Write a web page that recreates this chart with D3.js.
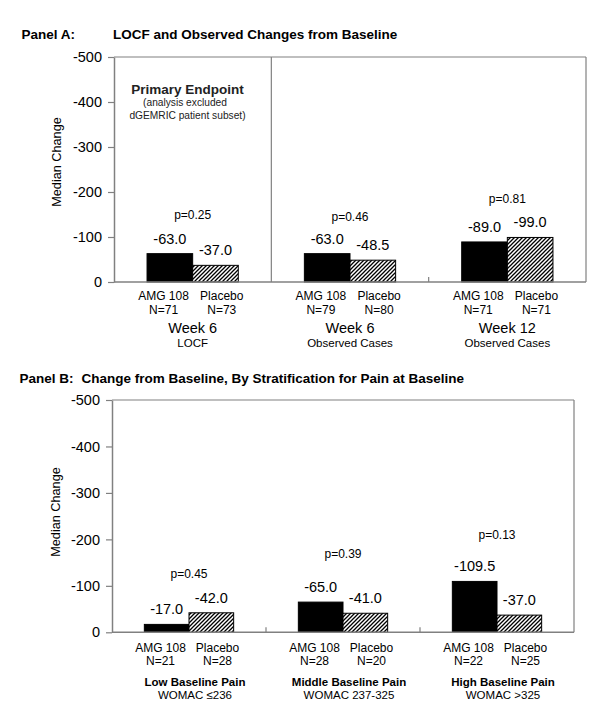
<!DOCTYPE html>
<html>
<head>
<meta charset="utf-8">
<script src="https://cdn.jsdelivr.net/npm/d3@7/dist/d3.min.js"></script>
<style>
  html, body { margin: 0; padding: 0; background: #fff; }
  svg { display: block; font-family: "Liberation Sans", Arial, Helvetica, sans-serif; }
</style>
</head>
<body>
<svg id="chart" width="600" height="721"></svg>
<script>
// ---------- DATA ----------
const yTicks = [0, -100, -200, -300, -400, -500];

// Panel A
const aGroups = ["Week 6", "Week 6", "Week 12"];
const aSubs = ["LOCF", "Observed Cases", "Observed Cases"];
const aAmg = [-63.0, -63.0, -89.0];
const aPlacebo = [-37.0, -48.5, -99.0];
const aAmgN = ["N=71", "N=79", "N=71"];
const aPlaceboN = ["N=73", "N=80", "N=71"];
const aPText = ["p=0.25", "p=0.46", "p=0.81"];
const aPLevel = [-140, -136, -175];

// Panel B
const bGroups = ["Low Baseline Pain", "Middle Baseline Pain", "High Baseline Pain"];
const bSubs = ["WOMAC \u2264236", "WOMAC 237-325", "WOMAC >325"];
const bAmg = [-17.0, -65.0, -109.5];
const bPlacebo = [-42.0, -41.0, -37.0];
const bAmgN = ["N=21", "N=28", "N=22"];
const bPlaceboN = ["N=28", "N=20", "N=25"];
const bPText = ["p=0.45", "p=0.39", "p=0.13"];
const bPLevel = [-116, -159, -200];

const treatLabels = ["AMG 108", "Placebo"];

// ---------- DRAW ----------
const svg = d3.select("#chart");
const GRAY = "#808080";

const defs = svg.append("defs");
const pat = defs.append("pattern")
  .attr("id", "hatch").attr("patternUnits", "userSpaceOnUse")
  .attr("width", 4).attr("height", 4);
pat.append("rect").attr("width", 4).attr("height", 4).attr("fill", "#fff");
pat.append("path")
  .attr("d", "M-1,1 l2,-2 M0,4 l4,-4 M3,5 l2,-2")
  .attr("stroke", "#000").attr("stroke-width", 1.3);

function drawPanel(o) {
  const g = svg.append("g");
  const y = d3.scaleLinear().domain([0, -500]).range([o.zeroY, o.top]);
  const idx = d3.range(o.amg.length);
  const x = d3.scaleBand().domain(idx).range([o.left, o.right]).paddingInner(0).paddingOuter(0);
  const bw = x.bandwidth();
  const barW = 0.29 * bw;
  const cx = i => x(i) + bw / 2;

  // titles
  g.append("text").attr("x", o.titleX1).attr("y", o.titleY)
    .attr("font-weight", "bold").attr("font-size", 13.5).text(o.title1);
  g.append("text").attr("x", o.titleX2).attr("y", o.titleY)
    .attr("font-weight", "bold").attr("font-size", 13.5).text(o.title2);

  // frame: top and right
  g.append("line").attr("x1", o.left).attr("x2", o.right).attr("y1", o.top).attr("y2", o.top)
    .attr("stroke", GRAY).attr("stroke-width", 1.2);
  g.append("line").attr("x1", o.right).attr("x2", o.right).attr("y1", o.top).attr("y2", o.zeroY)
    .attr("stroke", GRAY).attr("stroke-width", 1.2);

  // boundaries
  idx.slice(1).forEach(i => {
    const bx = x(i);
    if (o.fullDivider && i === 1) {
      g.append("line").attr("x1", bx).attr("x2", bx).attr("y1", o.top).attr("y2", o.zeroY)
        .attr("stroke", GRAY).attr("stroke-width", 1.2);
    } else {
      g.append("line").attr("x1", bx).attr("x2", bx).attr("y1", o.zeroY - 5).attr("y2", o.zeroY)
        .attr("stroke", GRAY).attr("stroke-width", 1.2);
    }
  });

  // bars
  g.selectAll(".amg").data(idx).join("rect")
    .attr("x", i => cx(i) - barW).attr("width", barW)
    .attr("y", i => y(o.amg[i])).attr("height", i => y(0) - y(o.amg[i]))
    .attr("fill", "#000").attr("stroke", "#000").attr("stroke-width", 1);
  g.selectAll(".pla").data(idx).join("rect")
    .attr("x", i => cx(i)).attr("width", barW)
    .attr("y", i => y(o.placebo[i])).attr("height", i => y(0) - y(o.placebo[i]))
    .attr("fill", "url(#hatch)").attr("stroke", "#000").attr("stroke-width", 1);

  // value labels
  g.selectAll(".va").data(idx).join("text")
    .attr("x", i => cx(i) - barW / 2).attr("y", i => y(o.amg[i]) - 10)
    .attr("text-anchor", "middle").attr("font-size", 14.5)
    .text(i => o.amg[i].toFixed(1));
  g.selectAll(".vp").data(idx).join("text")
    .attr("x", i => cx(i) + barW / 2).attr("y", i => y(o.placebo[i]) - 10)
    .attr("text-anchor", "middle").attr("font-size", 14.5)
    .text(i => o.placebo[i].toFixed(1));

  // p values
  g.selectAll(".pv").data(idx).join("text")
    .attr("x", i => cx(i)).attr("y", i => y(o.pLevel[i]))
    .attr("text-anchor", "middle").attr("font-size", 12)
    .text(i => o.pText[i]);

  // y axis
  const ax = g.append("g").attr("transform", `translate(${o.left},0)`)
    .call(d3.axisLeft(y).tickValues(yTicks).tickSize(6).tickSizeOuter(0).tickPadding(6)
      .tickFormat(d => String(d)));
  ax.select(".domain").attr("stroke", GRAY).attr("stroke-width", 1.5);
  ax.selectAll(".tick line").attr("stroke", GRAY).attr("stroke-width", 1.2);
  ax.selectAll(".tick text").attr("font-size", 14.5).attr("fill", "#000")
    .attr("font-family", "Liberation Sans, Arial, sans-serif");

  // x baseline
  g.append("line").attr("x1", o.left).attr("x2", o.right).attr("y1", y(0)).attr("y2", y(0))
    .attr("stroke", GRAY).attr("stroke-width", 1.5);

  // y label
  g.append("text").attr("transform", `translate(${o.yLabelX},${o.yLabelY}) rotate(-90)`)
    .attr("text-anchor", "middle").attr("dominant-baseline", "central")
    .attr("font-size", 12.7).text("Median Change");

  // category labels
  const off = 0.185 * bw;
  idx.forEach(i => {
    g.append("text").attr("x", cx(i) - off).attr("y", y(0) + o.row1)
      .attr("text-anchor", "middle").attr("font-size", 12).text(treatLabels[0]);
    g.append("text").attr("x", cx(i) + off).attr("y", y(0) + o.row1)
      .attr("text-anchor", "middle").attr("font-size", 12).text(treatLabels[1]);
    g.append("text").attr("x", cx(i) - off).attr("y", y(0) + o.row2)
      .attr("text-anchor", "middle").attr("font-size", 12).text(o.amgN[i]);
    g.append("text").attr("x", cx(i) + off).attr("y", y(0) + o.row2)
      .attr("text-anchor", "middle").attr("font-size", 12).text(o.placeboN[i]);
    g.append("text").attr("x", cx(i) + o.groupShift).attr("y", y(0) + o.row3)
      .attr("text-anchor", "middle").attr("font-size", o.groupSize)
      .attr("font-weight", o.groupBold ? "bold" : "normal").text(o.groups[i]);
    g.append("text").attr("x", cx(i) + o.groupShift).attr("y", y(0) + o.row4)
      .attr("text-anchor", "middle").attr("font-size", 11.5).text(o.subs[i]);
  });
  return { g, x, y };
}

const A = drawPanel({
  left: 114, right: 586, top: 57, zeroY: 282,
  amg: aAmg, placebo: aPlacebo, amgN: aAmgN, placeboN: aPlaceboN,
  pText: aPText, pLevel: aPLevel, groups: aGroups, subs: aSubs,
  title1: "Panel A:", title2: "LOCF and Observed Changes from Baseline",
  titleX1: 21.5, titleX2: 113, titleY: 38.5,
  fullDivider: true, yLabelX: 57, yLabelY: 162,
  row1: 17.5, row2: 31.5, row3: 51, row4: 65,
  groupSize: 14.5, groupBold: false, groupShift: 0
});

// Primary endpoint annotation
A.g.append("text").attr("x", 187.5).attr("y", 93.5).attr("text-anchor", "middle")
  .attr("font-weight", "bold").attr("font-size", 13.5).attr("fill", "#222").text("Primary Endpoint");
A.g.append("text").attr("x", 185).attr("y", 106).attr("text-anchor", "middle")
  .attr("font-size", 10.2).attr("fill", "#222").text("(analysis excluded");
A.g.append("text").attr("x", 187.5).attr("y", 118.5).attr("text-anchor", "middle")
  .attr("font-size", 10.2).attr("fill", "#222").text("dGEMRIC patient subset)");

drawPanel({
  left: 112, right: 574, top: 400, zeroY: 632.3,
  amg: bAmg, placebo: bPlacebo, amgN: bAmgN, placeboN: bPlaceboN,
  pText: bPText, pLevel: bPLevel, groups: bGroups, subs: bSubs,
  title1: "Panel B:", title2: "Change from Baseline, By Stratification for Pain at Baseline",
  titleX1: 19.5, titleX2: 81.5, titleY: 382.7,
  fullDivider: false, yLabelX: 56, yLabelY: 512,
  row1: 19.5, row2: 33, row3: 53.5, row4: 67,
  groupSize: 11.5, groupBold: true, groupShift: 6
});
</script>
</body>
</html>
